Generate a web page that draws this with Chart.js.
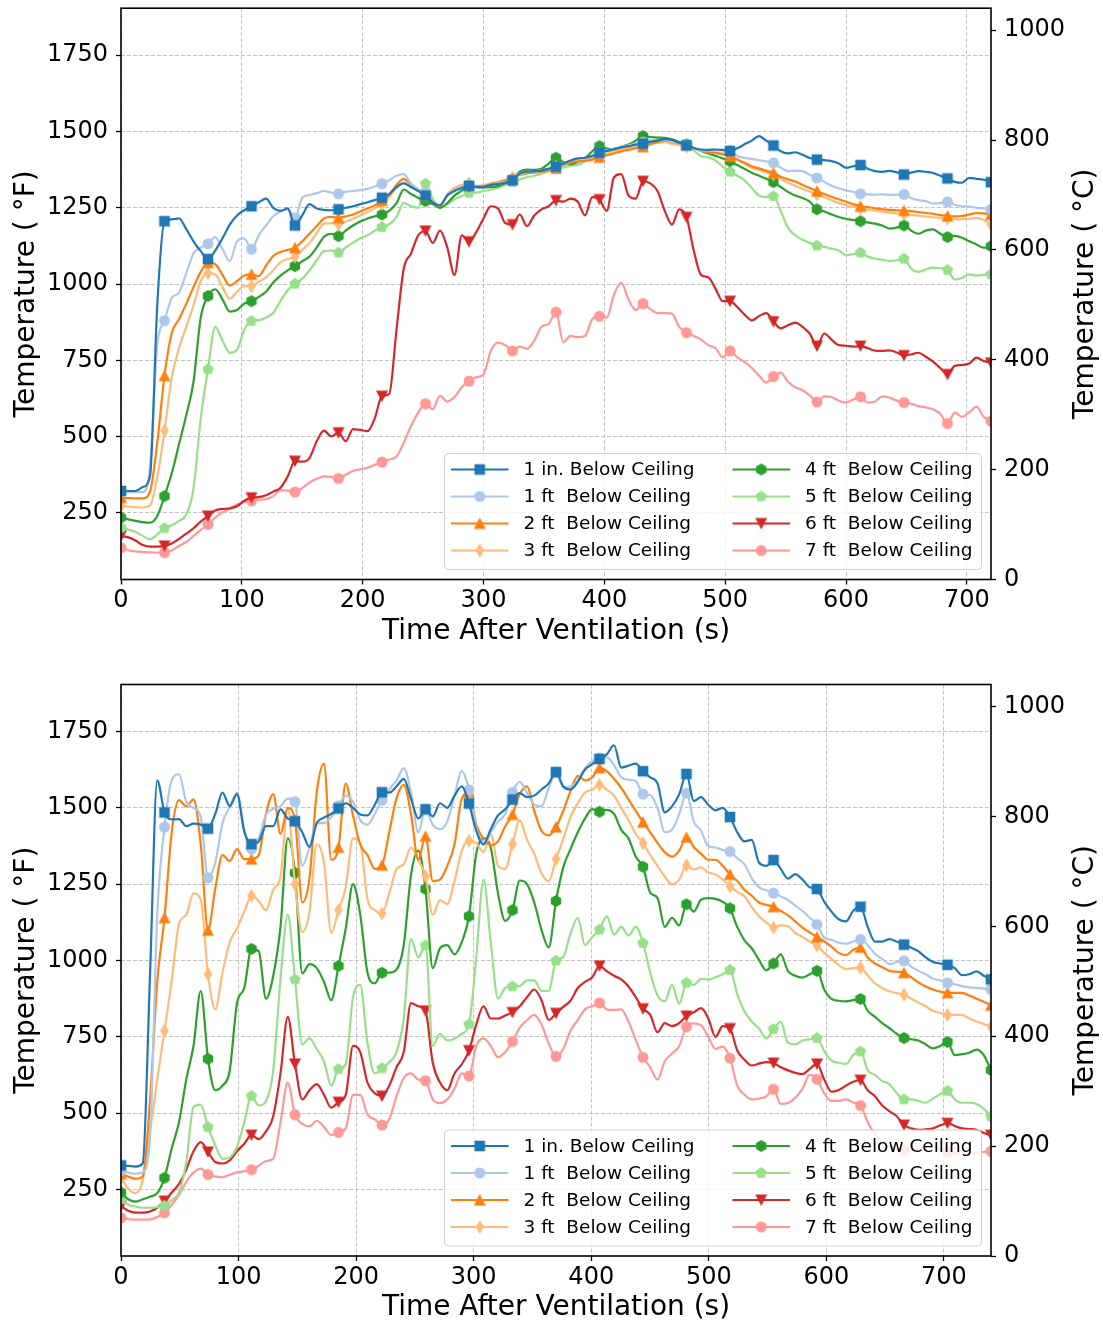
<!DOCTYPE html>
<html>
<head>
<meta charset="utf-8">
<title>Temperature After Ventilation</title>
<script src="https://cdn.jsdelivr.net/npm/chart.js@4.4.1/dist/chart.umd.min.js"></script>
<style>
  html, body { margin: 0; padding: 0; background: #fff; }
  #page { position: relative; width: 1103px; height: 1323px; }
  canvas { position: absolute; left: 0; }
  #topChart { top: 0; }
  #bottomChart { top: 662px; }
</style>
</head>
<body>
<div id="page">
  <canvas id="topChart" width="1103" height="662"></canvas>
  <canvas id="bottomChart" width="1103" height="661"></canvas>
</div>
<script>
// thermocouple heights, same order in both panels
const seriesLabels = [
  '1 in. Below Ceiling', '1 ft  Below Ceiling', '2 ft  Below Ceiling', '3 ft  Below Ceiling',
  '4 ft  Below Ceiling', '5 ft  Below Ceiling', '6 ft  Below Ceiling', '7 ft  Below Ceiling'
];

const fTicks = [250, 500, 750, 1000, 1250, 1500, 1750];
const cTicks = [0, 200, 400, 600, 800, 1000];
const timeTicks = [0, 100, 200, 300, 400, 500, 600, 700];

// upper panel: one reading every 6 s, 0..720 s (deg F)
const topStep = 6;
const topIn1 = [
  322, 322, 322, 335, 370, 930, 1206, 1212, 1215, 1180,
  1140, 1108, 1082, 1110, 1150, 1195, 1225, 1242, 1255, 1268,
  1280, 1250, 1240, 1248, 1192, 1225, 1262, 1248, 1243, 1242,
  1245, 1250, 1255, 1262, 1268, 1275, 1283, 1295, 1318, 1330,
  1318, 1305, 1290, 1268, 1258, 1290, 1305, 1315, 1322, 1318,
  1318, 1325, 1328, 1332, 1340, 1362, 1368, 1370, 1372, 1378,
  1385, 1395, 1405, 1412, 1414, 1420, 1430, 1436, 1442, 1448,
  1452, 1457, 1460, 1466, 1470, 1475, 1472, 1463, 1455, 1446,
  1441, 1440, 1441, 1440, 1436, 1445, 1458, 1470, 1485, 1470,
  1454, 1435, 1428, 1432, 1424, 1413, 1408, 1406, 1403, 1395,
  1381, 1386, 1390, 1378, 1370, 1368, 1371, 1366, 1359, 1365,
  1370, 1368, 1364, 1355, 1346, 1335, 1332, 1348, 1345, 1342,
  1334
];
const topFt1 = [
  320, 318, 318, 318, 400, 800, 880, 955, 972, 1035,
  1100, 1120, 1132, 1154, 1115, 1075, 1140, 1150, 1114, 1160,
  1192, 1222, 1238, 1245, 1217, 1283, 1292, 1298, 1305, 1300,
  1296, 1302, 1305, 1308, 1312, 1320, 1329, 1340, 1355, 1360,
  1330, 1310, 1300, 1272, 1258, 1292, 1308, 1318, 1325, 1318,
  1318, 1325, 1330, 1334, 1340, 1360, 1366, 1368, 1372, 1378,
  1385, 1394, 1404, 1410, 1413, 1420, 1430, 1437, 1444, 1450,
  1455, 1460, 1465, 1469, 1471, 1472, 1468, 1462, 1455, 1446,
  1438, 1438, 1438, 1438, 1438, 1420, 1414, 1410, 1406, 1402,
  1397, 1382, 1370, 1372, 1370, 1358, 1348, 1335, 1322, 1314,
  1307, 1302, 1296, 1294, 1293, 1294, 1292, 1293, 1294, 1282,
  1275, 1272, 1264, 1265, 1269, 1260, 1255, 1254, 1250, 1248,
  1245
];
const topFt2 = [
  300, 299, 298, 298, 320, 480, 700, 840, 885, 935,
  990, 1040, 1070, 1065, 1030, 995, 1010, 1028, 1032, 1026,
  1060, 1092, 1105, 1112, 1119, 1140, 1165, 1190, 1215, 1220,
  1217, 1222, 1228, 1238, 1248, 1258, 1274, 1292, 1325, 1345,
  1326, 1310, 1290, 1268, 1256, 1290, 1308, 1318, 1325, 1320,
  1320, 1328, 1332, 1338, 1345, 1358, 1362, 1365, 1368, 1372,
  1380, 1390, 1398, 1402, 1404, 1408, 1415, 1422, 1428, 1435,
  1440, 1445, 1450, 1458, 1465, 1470, 1467, 1460, 1455, 1446,
  1438, 1432, 1430, 1425, 1419, 1408, 1398, 1386, 1379, 1371,
  1364, 1352, 1343, 1336, 1325, 1315, 1305, 1295, 1286, 1278,
  1270, 1262, 1255, 1252, 1248, 1245, 1243, 1242, 1241, 1239,
  1236, 1233, 1230, 1226, 1223, 1222, 1223, 1228, 1233, 1232,
  1228
];
const topFt3 = [
  273, 271, 269, 268, 275, 366, 520, 693, 790, 860,
  930, 1010, 1037, 1032, 990, 952, 975, 993, 993, 1008,
  1022, 1045, 1072, 1082, 1090, 1112, 1135, 1168, 1198, 1200,
  1195, 1205, 1214, 1225, 1236, 1248, 1263, 1285, 1315, 1332,
  1318, 1305, 1295, 1270, 1258, 1295, 1315, 1325, 1330, 1322,
  1324, 1330, 1336, 1342, 1350, 1362, 1368, 1370, 1373, 1378,
  1385, 1395, 1402, 1405, 1408, 1413, 1420, 1427, 1434, 1440,
  1445, 1450, 1455, 1460, 1463, 1465, 1460, 1455, 1450, 1443,
  1437, 1432, 1430, 1428, 1425, 1408, 1394, 1381, 1374, 1366,
  1359, 1345, 1332, 1322, 1312, 1303, 1294, 1285, 1275, 1266,
  1259, 1253, 1248, 1244, 1240, 1237, 1234, 1232, 1230, 1227,
  1224, 1222, 1219, 1217, 1215, 1213, 1212, 1214, 1217, 1210,
  1195
];
const topFt4 = [
  235, 229, 224, 220, 218, 240, 305, 380, 475, 570,
  680, 890, 961, 983, 950, 910, 915, 936, 944, 958,
  975, 1005, 1028, 1045, 1059, 1075, 1090, 1120, 1155, 1165,
  1157, 1175, 1192, 1205, 1215, 1222, 1228, 1240, 1265, 1310,
  1295, 1283, 1272, 1262, 1250, 1265, 1290, 1306, 1321, 1318,
  1316, 1318, 1321, 1330, 1343, 1368, 1375, 1374, 1378, 1395,
  1414, 1400, 1392, 1400, 1412, 1435, 1452, 1444, 1441, 1450,
  1457, 1470, 1485, 1482, 1480, 1479, 1474, 1466, 1457, 1446,
  1436, 1428, 1420, 1412, 1403, 1390, 1378, 1365, 1355, 1345,
  1334, 1318, 1302, 1290, 1282, 1270, 1245, 1238, 1228, 1220,
  1214, 1210, 1206, 1202, 1198, 1192, 1182, 1185, 1192, 1175,
  1165, 1175, 1179, 1165, 1154, 1158, 1152, 1140, 1130, 1119,
  1124
];
const topFt5 = [
  202, 196, 188, 175, 164, 180, 200, 210, 224, 245,
  330, 560, 721, 860, 815, 775, 785, 850, 879, 882,
  890, 906, 945, 980, 1001, 1018, 1045, 1078, 1108, 1110,
  1103, 1120, 1136, 1150, 1160, 1175, 1187, 1196, 1220, 1266,
  1255, 1250, 1329, 1280, 1250, 1262, 1278, 1288, 1299, 1300,
  1305, 1310, 1316, 1325, 1335, 1343, 1350, 1355, 1362, 1370,
  1376, 1382, 1388, 1390, 1402, 1418, 1430, 1435, 1440, 1443,
  1447, 1455, 1468, 1472, 1475, 1477, 1472, 1465, 1457, 1438,
  1419, 1415, 1405, 1385, 1368, 1355, 1340, 1315, 1290, 1285,
  1288, 1239, 1185, 1160, 1145, 1135, 1126, 1122, 1116, 1110,
  1095, 1098, 1103, 1090, 1083, 1080, 1076, 1078, 1083, 1050,
  1040, 1048, 1054, 1052, 1046, 1015, 1020, 1032, 1028, 1030,
  1032
];
const topFt6 = [
  175, 170, 160, 145, 140, 140, 142, 150, 165, 182,
  200, 222, 240, 258, 263, 265, 272, 290, 300, 302,
  308, 320, 333, 370, 420, 418, 430, 485, 520, 501,
  513, 485, 525, 522, 518, 560, 633, 640, 850, 1050,
  1100, 1160, 1174, 1135, 1175, 1120, 1030, 1160, 1139, 1170,
  1215, 1255, 1248, 1200, 1195, 1228, 1190, 1225, 1245, 1255,
  1274, 1270, 1280, 1270, 1225, 1285, 1277, 1240, 1350, 1360,
  1290, 1280, 1337, 1330, 1305, 1240, 1195, 1245, 1219, 1110,
  1030, 1022, 985, 944, 944, 925, 900, 881, 895, 905,
  877, 855, 865, 874, 860, 838, 797, 838, 818, 800,
  798, 795, 797, 790, 782, 781, 783, 776, 766, 770,
  775, 762, 746, 725, 704, 732, 735, 740, 759, 748,
  742
];
const topFt7 = [
  136, 128, 124, 122, 121, 120, 120, 128, 142, 155,
  175, 195, 213, 235, 252, 265, 278, 286, 290, 293,
  295, 305, 325, 323, 319, 332, 350, 362, 370, 368,
  363, 375, 388, 393, 398, 408, 417, 425, 435, 480,
  535, 579, 608, 590, 635, 615, 630, 662, 682, 695,
  704, 781, 808, 800, 781, 795, 788, 815, 860, 870,
  908, 810, 830, 826, 830, 885, 895, 890, 965, 1005,
  950, 915, 936, 918, 905, 905, 903, 860, 841, 830,
  818, 800, 790, 760, 781, 760, 745, 725, 700, 677,
  697, 710, 680, 662, 652, 635, 614, 632, 630, 618,
  612, 622, 631, 612, 615, 632, 628, 618, 612, 608,
  600, 596, 590, 575, 543, 579, 565, 580, 598, 565,
  551
];

// lower panel: one reading every 37/6 s, 0..740 s (deg F)
const bottomStep = 37 / 6;
const botIn1 = [
  329, 327, 325, 335, 950, 1590, 1485, 1462, 1463, 1440,
  1448, 1445, 1432, 1480, 1550, 1505, 1545, 1422, 1381, 1390,
  1440, 1440, 1495, 1465, 1456, 1420, 1372, 1450, 1468, 1480,
  1498, 1515, 1500, 1478, 1475, 1510, 1551, 1550, 1570, 1595,
  1530, 1465, 1495, 1472, 1515, 1500, 1540, 1570, 1514, 1425,
  1380, 1430, 1475, 1495, 1527, 1548, 1535, 1540, 1560, 1580,
  1617, 1570, 1560, 1585, 1625, 1643, 1660, 1675, 1705, 1632,
  1638, 1645, 1620, 1600, 1580, 1485, 1505, 1545, 1611, 1522,
  1535, 1510, 1492, 1500, 1470, 1420, 1390, 1395, 1320, 1310,
  1329, 1300, 1268, 1283, 1265, 1240, 1234, 1192, 1160, 1135,
  1128, 1163, 1176, 1110, 1062, 1062, 1070, 1062, 1052, 1042,
  1030, 1010, 995, 990, 986, 975, 952, 955, 964, 950,
  938
];
const botFt1 = [
  312, 305, 301, 306, 420, 1150, 1437, 1590, 1610, 1520,
  1500, 1470, 1271, 1320, 1450, 1503, 1550, 1430, 1365, 1400,
  1478, 1496, 1505, 1530, 1520, 1310, 1370, 1450, 1450, 1470,
  1507, 1540, 1520, 1460, 1445, 1480, 1525, 1560, 1590, 1630,
  1550, 1420, 1496, 1445, 1430, 1455, 1540, 1620, 1559, 1435,
  1390, 1420, 1455, 1480, 1551, 1585, 1550, 1510, 1505, 1565,
  1617, 1568, 1570, 1590, 1630, 1653, 1664, 1665, 1640, 1600,
  1592, 1588, 1545, 1542, 1500, 1420, 1428, 1480, 1548, 1455,
  1425, 1375, 1370, 1362, 1357, 1335, 1315, 1270, 1240, 1230,
  1221, 1210, 1198, 1180, 1162, 1140, 1118, 1075, 1068, 1058,
  1055, 1062, 1069, 1050, 1022, 1005, 988, 995, 999, 980,
  966, 955, 940, 935, 927, 922, 916, 912, 910, 908,
  905
];
const botFt2 = [
  301, 292, 285, 292, 540, 930, 1140, 1420, 1525, 1505,
  1528, 1380, 1099, 1235, 1345, 1326, 1365, 1332, 1332, 1345,
  1480, 1545, 1415, 1500, 1460, 1190, 1270, 1550, 1645, 1330,
  1370, 1580, 1475, 1380, 1345, 1300, 1312, 1420, 1531, 1575,
  1480, 1330, 1407, 1260, 1265, 1310, 1380, 1530, 1550, 1445,
  1398, 1378, 1390, 1440, 1478, 1545, 1570, 1490, 1425, 1410,
  1437, 1490, 1555, 1605, 1590, 1600, 1631, 1620, 1595, 1565,
  1528, 1490, 1453, 1420, 1385, 1355, 1340, 1360, 1404, 1372,
  1350, 1330, 1330, 1310, 1282, 1260, 1232, 1212, 1190, 1182,
  1176, 1162, 1148, 1128, 1108, 1092, 1077, 1063, 1045, 1025,
  1018, 1035, 1043, 1010, 990, 978, 966, 963, 960, 945,
  928, 915, 905, 898, 894, 894, 894, 885, 875, 865,
  853
];
const botFt3 = [
  290, 252, 238, 280, 440, 610, 770, 935, 1120, 1150,
  1220, 1200, 955, 840, 960, 1060, 1105, 1160, 1212, 1195,
  1165, 1232, 1275, 1500, 1250, 1093, 1160, 1380, 1320, 1090,
  1165, 1240, 1400, 1385, 1200, 1165, 1154, 1220, 1300, 1315,
  1370, 1330, 1276, 1150, 1198, 1185, 1260, 1360, 1392, 1385,
  1355, 1415, 1310, 1300, 1381, 1460, 1395, 1350, 1285, 1260,
  1332, 1398, 1470, 1515, 1550, 1560, 1575, 1560, 1540, 1500,
  1460, 1415, 1384, 1345, 1310, 1275, 1250, 1265, 1312, 1298,
  1305, 1288, 1282, 1265, 1243, 1225, 1210, 1175, 1145, 1125,
  1108, 1115, 1112, 1090, 1077, 1062, 1049, 1025, 1005, 985,
  972, 975, 977, 950, 925, 910, 899, 893, 888, 875,
  862, 850, 835, 828, 822, 822, 822, 810, 800, 792,
  783
];
const botFt4 = [
  240, 218, 210, 218, 226, 238, 288, 385, 470, 610,
  720, 900, 678, 575, 590, 640, 860, 910, 1038, 1030,
  875, 950, 1110, 1400, 1287, 958, 988, 975, 930, 870,
  982, 1105, 1250, 1150, 960, 925, 960, 960, 970, 1050,
  1280, 1360, 1234, 975, 1040, 1050, 1020, 1060, 1145, 1350,
  1400, 1370, 1220, 1130, 1165, 1262, 1250, 1190, 1100, 1043,
  1195, 1305, 1365, 1420, 1465, 1496, 1487, 1493, 1480, 1428,
  1400, 1340, 1307, 1222, 1205, 1110, 1140, 1115, 1184, 1160,
  1199, 1204, 1202, 1192, 1171, 1110, 1066, 1040, 1002, 968,
  990, 1020, 965, 950, 944, 955, 966, 905, 874, 868,
  866, 870, 874, 835, 815, 795, 778, 760, 746, 742,
  738, 725, 712, 720, 733, 690, 693, 698, 708, 690,
  641
];
const botFt5 = [
  218, 200, 194, 190, 190, 192, 196, 215, 240, 340,
  520, 528, 454, 395, 350, 355, 390, 470, 556, 525,
  540, 640, 940, 1150, 938, 725, 745, 710, 670, 590,
  644, 661, 880, 920, 730, 630, 647, 667, 700, 810,
  1070, 1010, 1049, 720, 760, 738, 744, 760, 791, 1010,
  1265, 1060, 875, 910, 915, 916, 935, 935, 900, 900,
  999, 1012, 1088, 1140, 1050, 1077, 1101, 1145, 1085, 1110,
  1082, 1110, 1057, 960, 885, 866, 920, 858, 927, 920,
  940, 938, 945, 955, 969, 890, 833, 800, 777, 744,
  775, 799, 730, 725, 738, 742, 746, 703, 672, 665,
  661, 690, 702, 640, 625, 605, 595, 565, 545, 545,
  540, 534, 548, 562, 573, 545, 534, 534, 530, 515,
  489
];
const botFt6 = [
  196, 180, 174, 174, 178, 190, 212, 240, 268, 315,
  375, 405, 373, 340, 335, 345, 375, 400, 428, 415,
  440, 490, 630, 815, 661, 545, 575, 595, 560, 518,
  536, 560, 720, 700, 600, 565, 556, 590, 650, 700,
  860, 850, 835, 665, 600, 575, 630, 660, 705, 790,
  850, 810, 810, 820, 830, 850, 880, 905, 870, 805,
  827, 848, 868, 910, 930, 945, 982, 965, 950, 938,
  915, 880, 842, 822, 765, 795, 785, 795, 818, 830,
  844, 811, 750, 785, 777, 705, 675, 656, 662, 667,
  664, 650, 640, 632, 628, 645, 661, 610, 570, 576,
  590, 603, 608, 575, 555, 525, 506, 490, 461, 450,
  445, 447, 450, 460, 467, 458, 450, 448, 445, 435,
  428
];
const botFt7 = [
  157, 153, 151, 151, 152, 160, 174, 200, 232, 275,
  305, 318, 299, 293, 290, 298, 306, 310, 315, 328,
  343, 351, 470, 600, 495, 465, 457, 475, 455, 428,
  437, 450, 560, 560, 495, 480, 461, 480, 555, 615,
  630, 610, 606, 545, 533, 545, 580, 630, 622, 720,
  745, 720, 683, 700, 735, 780, 805, 822, 790, 728,
  686, 710, 770, 805, 840, 850, 861, 840, 838, 840,
  800, 740, 683, 650, 610, 670, 695, 720, 783, 794,
  788, 750, 710, 718, 680, 590, 560, 545, 548, 555,
  578, 530, 533, 550, 580, 625, 611, 565, 540, 540,
  545, 535, 525, 470, 430, 410, 390, 383, 378, 380,
  384, 387, 390, 382, 373, 370, 367, 368, 370, 373,
  375
];

const topTime = topFt1.map((_, i) => i * topStep);
const bottomTime = botFt1.map((_, i) => +(i * bottomStep).toFixed(3));

// every sixth reading carries a marker
const MARK_EVERY = 6;
const FONT = "'DejaVu Sans', sans-serif";
const seriesColors = ['#1f77b4', '#aec7e8', '#ff7f0e', '#ffbb78', '#2ca02c', '#98df8a', '#d62728', '#ff9896'];
const seriesShapes = ['square', 'circle', 'triangle', 'thinDiamond', 'hexagon', 'pentagon', 'triangleDown', 'circle'];

Chart.defaults.font.family = FONT;
Chart.defaults.color = '#000';

function polygon(g, cx, cy, n, r) {
  for (let k = 0; k < n; k++) {
    const a = -Math.PI / 2 + k * 2 * Math.PI / n;
    const px = cx + r * Math.cos(a), py = cy + r * Math.sin(a);
    if (k === 0) g.moveTo(px, py); else g.lineTo(px, py);
  }
}

function makeMarker(shape, color) {
  const c = document.createElement('canvas');
  c.width = 18; c.height = 18;
  const g = c.getContext('2d');
  const m = 9;
  g.fillStyle = color;
  g.beginPath();
  if (shape === 'square') g.rect(m - 5.3, m - 5.3, 10.6, 10.6);
  else if (shape === 'circle') g.arc(m, m, 5.5, 0, Math.PI * 2);
  else if (shape === 'triangle') { g.moveTo(m, m - 6); g.lineTo(m + 6, m + 5.5); g.lineTo(m - 6, m + 5.5); }
  else if (shape === 'triangleDown') { g.moveTo(m, m + 6); g.lineTo(m + 6, m - 5.5); g.lineTo(m - 6, m - 5.5); }
  else if (shape === 'thinDiamond') { g.moveTo(m, m - 7); g.lineTo(m + 4.3, m); g.lineTo(m, m + 7); g.lineTo(m - 4.3, m); }
  else if (shape === 'hexagon') polygon(g, m, m, 6, 6);
  else if (shape === 'pentagon') polygon(g, m, m, 5, 6);
  g.closePath();
  g.fill();
  return c;
}

const markerImages = seriesShapes.map((s, k) => makeMarker(s, seriesColors[k]));

// frame, legend and axis titles
const panelDecor = {
  id: 'panelDecor',
  afterDatasetsDraw(chart) {
    const { ctx, chartArea: a } = chart;
    ctx.save();
    ctx.strokeStyle = '#000';
    ctx.lineWidth = 1.6;
    ctx.strokeRect(a.left, a.top, a.right - a.left, a.bottom - a.top);

    const w = 537, h = 116;
    const lx = a.right - 9.5 - w;
    const ly = a.bottom - 10 - h;
    ctx.beginPath();
    ctx.roundRect(lx, ly, w, h, 4);
    ctx.fillStyle = 'rgba(255,255,255,0.8)';
    ctx.fill();
    ctx.strokeStyle = '#d0d0d0';
    ctx.lineWidth = 1;
    ctx.stroke();

    ctx.font = '18.5px ' + FONT;
    ctx.textBaseline = 'middle';
    ctx.textAlign = 'left';
    seriesLabels.forEach((label, k) => {
      const col = Math.floor(k / 4), row = k % 4;
      const x0 = lx + (col ? 288 : 6.5);
      const y = ly + 16 + row * 27;
      ctx.strokeStyle = seriesColors[k];
      ctx.lineWidth = 2.2;
      ctx.beginPath();
      ctx.moveTo(x0, y);
      ctx.lineTo(x0 + 57.5, y);
      ctx.stroke();
      const img = markerImages[k];
      ctx.drawImage(img, x0 + 28.7 - img.width / 2, y - img.height / 2);
      ctx.fillStyle = '#000';
      ctx.fillText(label, lx + (col ? 360.5 : 79), y + 1);
    });
    ctx.restore();
  },
  afterDraw(chart) {
    const { ctx, chartArea: a } = chart;
    const midY = (a.top + a.bottom) / 2;
    ctx.save();
    ctx.fillStyle = '#000';
    ctx.font = '28px ' + FONT;
    ctx.textAlign = 'center';
    ctx.textBaseline = 'middle';
    ctx.fillText('Time After Ventilation (s)', (a.left + a.right) / 2, a.bottom + 52);
    [[26.5, 'Temperature ( °F)'], [1086, 'Temperature ( °C)']].forEach(([x, text]) => {
      ctx.save();
      ctx.translate(x, midY);
      ctx.rotate(-Math.PI / 2);
      ctx.fillText(text, 0, 0);
      ctx.restore();
    });
    ctx.restore();
  }
};

function fixedTicks(values) {
  return scale => { scale.ticks = values.map(v => ({ value: v })); };
}

// fixed axis sizes; label overhang must not push the plot area around
function fitVertical(width) {
  return s => { s.width = width; s.paddingTop = 0; s.paddingBottom = 0; };
}
function fitHorizontal(height) {
  return s => { s.height = height; s.paddingLeft = 0; s.paddingRight = 0; };
}

function buildPanel(id, time, temps, xMax, padTop, xHeight) {
  const datasets = temps.map((vals, k) => ({
    label: seriesLabels[k],
    data: vals.map((v, i) => ({ x: time[i], y: v })),
    borderColor: seriesColors[k],
    backgroundColor: seriesColors[k],
    borderWidth: 2.2,
    pointStyle: markerImages[k],
    pointRadius: c => (c.dataIndex % MARK_EVERY === 0 ? 6 : 0),
    cubicInterpolationMode: 'monotone',
    clip: 0,
    yAxisID: 'yF'
  }));

  const gridBase = {
    color: '#bdbdbd',
    lineWidth: 0.9,
    tickLength: 5,
    tickColor: '#000',
    tickWidth: 1.3,
    tickBorderDash: []
  };

  return new Chart(document.getElementById(id), {
    type: 'line',
    data: { datasets },
    options: {
      responsive: false,
      animation: false,
      events: [],
      layout: { padding: { top: padTop, left: 0, right: 0, bottom: 0 } },
      scales: {
        x: {
          type: 'linear',
          min: 0,
          max: xMax,
          afterBuildTicks: fixedTicks(timeTicks),
          afterFit: fitHorizontal(xHeight),
          grid: gridBase,
          border: { display: false, dash: [4, 2] },
          ticks: { font: { size: 24 }, color: '#000', padding: 2, maxRotation: 0, callback: v => String(v) }
        },
        yF: {
          type: 'linear',
          position: 'left',
          min: 32,
          max: 1904,
          afterBuildTicks: fixedTicks(fTicks),
          afterFit: fitVertical(121),
          grid: gridBase,
          border: { display: false, dash: [4, 2] },
          ticks: { font: { size: 24 }, color: '#000', padding: 8, callback: v => String(v) }
        },
        yC: {
          type: 'linear',
          position: 'right',
          min: 0,
          max: 1040,
          afterBuildTicks: fixedTicks(cTicks),
          afterFit: fitVertical(112),
          grid: { ...gridBase, drawOnChartArea: false },
          border: { display: false },
          ticks: { font: { size: 24 }, color: '#000', padding: 8, callback: v => String(v) }
        }
      },
      plugins: { legend: { display: false }, tooltip: { enabled: false } }
    },
    plugins: [panelDecor]
  });
}

buildPanel('topChart', topTime,
  [topIn1, topFt1, topFt2, topFt3, topFt4, topFt5, topFt6, topFt7], 720, 7.5, 82.5);
buildPanel('bottomChart', bottomTime,
  [botIn1, botFt1, botFt2, botFt3, botFt4, botFt5, botFt6, botFt7], 740, 22.5, 67);
</script>
</body>
</html>
